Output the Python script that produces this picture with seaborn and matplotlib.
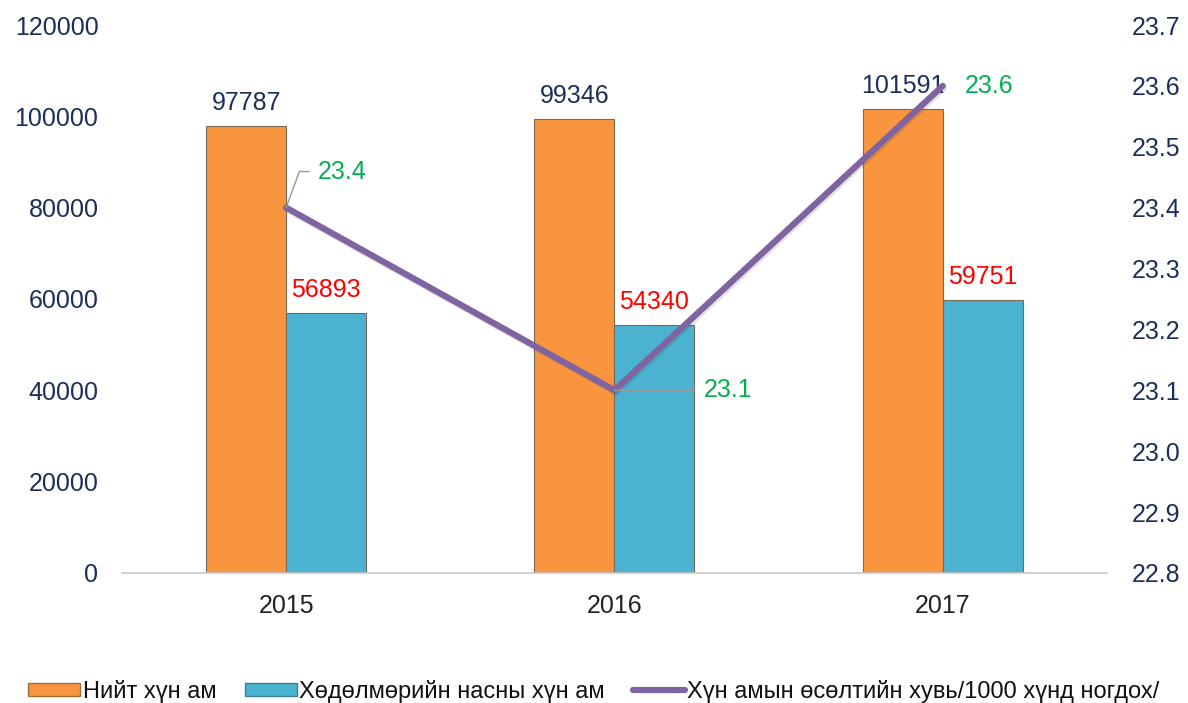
import matplotlib.pyplot as plt
import matplotlib.patheffects as pe
import numpy as np
import pandas as pd
import seaborn as sns

YEARS = ['2015', '2016', '2017']
TOTAL = [97787, 99346, 101591]
WORKING = [56893, 54340, 59751]
RATE = [23.4, 23.1, 23.6]

SERIES = ['Нийт хүн ам', 'Хөдөлмөрийн насны хүн ам']
LINE_NAME = 'Хүн амын өсөлтийн хувь/1000 хүнд ногдох/'

NAVY = '#1F2D5A'
ORANGE = '#F9953F'
TEAL = '#4BB3CF'
PURPLE = '#8064A2'
GREEN = '#00B050'


def main():
    sns.set_theme(style='white')
    plt.rcParams['font.family'] = ['Liberation Sans', 'DejaVu Sans']

    df = pd.DataFrame({
        'year': YEARS * 2,
        'value': TOTAL + WORKING,
        'series': [SERIES[0]] * 3 + [SERIES[1]] * 3,
    })

    fig = plt.figure(figsize=(11.88, 7.03), dpi=100)
    ax = fig.add_axes([0.1027, 0.185, 0.829, 0.7794])

    sns.barplot(data=df, x='year', y='value', hue='series', ax=ax,
                palette=[ORANGE, TEAL], width=0.487, saturation=1,
                edgecolor='#7a6a5a', linewidth=0.8, legend=False)

    for cont, vals, c in zip(ax.containers, [TOTAL, WORKING], [NAVY, 'red']):
        ax.bar_label(cont, labels=[str(v) for v in vals],
                     padding=8, color=c, fontsize=18)

    ax.set_ylim(0, 120000)
    ax.set_yticks(np.arange(0, 120001, 20000))
    ax.set_xlim(-0.5, 2.5)
    ax.set_xlabel('')
    ax.set_ylabel('')
    ax.tick_params(axis='both', length=0, labelsize=18, labelcolor=NAVY)
    ax.tick_params(axis='x', pad=15, labelcolor='#222222')
    ax.tick_params(axis='y', pad=17)
    for s in ['top', 'right', 'left']:
        ax.spines[s].set_visible(False)
    ax.spines['bottom'].set_color('#c8c8c8')
    ax.spines['bottom'].set_linewidth(1.2)

    ax2 = ax.twinx()
    x = np.arange(len(YEARS))
    sns.lineplot(x=x, y=RATE, ax=ax2, color=PURPLE, linewidth=4.5,
                 path_effects=[pe.SimpleLineShadow(offset=(1, -1.5), alpha=0.12),
                               pe.Normal()])
    ticks2 = np.round(np.arange(22.8, 23.71, 0.1), 1)
    ax2.set_ylim(22.8, 23.7)
    ax2.set_yticks(ticks2)
    ax2.set_yticklabels([f'{v:.1f}' for v in ticks2])
    ax2.tick_params(axis='y', length=0, labelsize=18, labelcolor=NAVY, pad=18)
    for s in ax2.spines.values():
        s.set_visible(False)
    ax2.set_xlim(-0.5, 2.5)

    ax2.annotate(f'{RATE[0]:.1f}', xy=(x[0], RATE[0]), xytext=(23, 26),
                 textcoords='offset points', color=GREEN, fontsize=18,
                 va='center', ha='left',
                 arrowprops=dict(arrowstyle='-', color='#999999', lw=1,
                                 connectionstyle='angle,angleA=0,angleB=70,rad=0',
                                 shrinkA=4, shrinkB=0))
    ax2.annotate(f'{RATE[1]:.1f}', xy=(x[1], RATE[1]), xytext=(64, 0),
                 textcoords='offset points', color=GREEN, fontsize=18,
                 va='center', ha='left',
                 arrowprops=dict(arrowstyle='-', color='#999999', lw=1,
                                 shrinkA=4, shrinkB=0))
    ax2.annotate(f'{RATE[2]:.1f}', xy=(x[2], RATE[2]), xytext=(16, 0),
                 textcoords='offset points', color=GREEN, fontsize=18,
                 va='center', ha='left')

    handles = [
        plt.Rectangle((0, 0), 1, 1, facecolor=ORANGE, edgecolor='#a0703a'),
        plt.Rectangle((0, 0), 1, 1, facecolor=TEAL, edgecolor='#3a8090'),
        plt.Line2D([0], [0], color=PURPLE, linewidth=4.5),
    ]
    leg = fig.legend(handles, SERIES + [LINE_NAME], loc='lower center',
                     bbox_to_anchor=(0.5, -0.03), ncol=3, frameon=False,
                     handlelength=2.2, handleheight=0.5, handletextpad=0.1,
                     columnspacing=1.2, prop={'size': 17})
    for t in leg.get_texts():
        t.set_color('#111111')

    fig.savefig('out.png', dpi=100)


if __name__ == '__main__':
    main()
